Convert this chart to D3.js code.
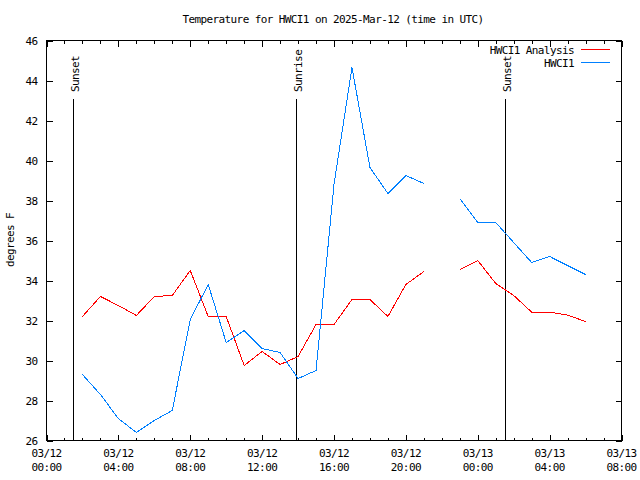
<!DOCTYPE html>
<html>
<head>
<meta charset="utf-8">
<script src="https://cdn.jsdelivr.net/npm/d3@7"></script>
<style>
  html, body { margin: 0; padding: 0; background: #fff; }
  svg { display: block; }
  text { font-family: "DejaVu Sans Mono", "Liberation Mono", monospace; font-size: 11px; letter-spacing: -0.6px; fill: #000; }
</style>
</head>
<body>
<svg id="chart" width="640" height="480"></svg>
<script>
// ---------- data ----------
const startHour = "2025-03-12T02:00:00Z";
const analysisValues = [32.2, 33.2, 32.75, 32.25, 33.2, 33.25, 34.5, 32.2, 32.2, 29.75, 30.45, 29.8, 30.2, 31.8, 31.8, 33.05, 33.05, 32.2, 33.8, 34.45, null, 34.55, 35.0, 33.85, 33.25, 32.42, 32.42, 32.27, 31.95];
const observedValues = [29.3, 28.3, 27.1, 26.4, 27.0, 27.5, 32.05, 33.8, 30.9, 31.5, 30.6, 30.4, 29.1, 29.5, 38.8, 44.65, 39.65, 38.35, 39.25, 38.85, null, 38.1, 36.9, 36.9, 35.9, 34.9, 35.2, 34.75, 34.3];
const seriesNames = ["HWCI1 Analysis", "HWCI1"];
const seriesColors = ["#ff0000", "#0080ff"];
const sunEvents = [
  { label: "Sunset", time: "2025-03-12T01:30:00Z" },
  { label: "Sunrise", time: "2025-03-12T13:55:00Z" },
  { label: "Sunset", time: "2025-03-13T01:32:00Z" }
];
const xDomain = ["2025-03-12T00:00:00Z", "2025-03-13T08:00:00Z"];
const yDomain = [26, 46];
const yTickValues = [26, 28, 30, 32, 34, 36, 38, 40, 42, 44, 46];
const titleText = "Temperature for HWCI1 on 2025-Mar-12 (time in UTC)";
const yLabelText = "degrees F";

// ---------- build ----------
const t0 = new Date(startHour);
const times = analysisValues.map((_, i) => d3.utcHour.offset(t0, i));
const series = [analysisValues, observedValues].map((vals, s) => ({
  name: seriesNames[s], color: seriesColors[s],
  points: vals.map((v, i) => ({ t: times[i], v }))
}));

const svg = d3.select("#chart");
const L = 46.5, R = 621.5, T = 40.5, B = 440.5;
const x = d3.scaleUtc().domain(xDomain.map(d => new Date(d))).range([L, R]);
const y = d3.scaleLinear().domain(yDomain).range([B, T]);

// title
svg.append("text").attr("x", 333).attr("y", 23).attr("text-anchor", "middle").text(titleText);
// y label
svg.append("text").attr("transform", "translate(14,240) rotate(-90)").attr("text-anchor", "middle").text(yLabelText);

// axes
const majorTicks = x.ticks(d3.utcHour.every(4));
const minorTicks = x.ticks(d3.utcHour.every(1));

const gB = svg.append("g").attr("transform", `translate(0,${B})`)
  .call(d3.axisBottom(x).tickValues(minorTicks).tickSize(-3).tickFormat(""));
const gB2 = svg.append("g").attr("transform", `translate(0,${B})`)
  .call(d3.axisBottom(x).tickValues(majorTicks).tickSize(-6).tickPadding(0).tickFormat(""));
const gT = svg.append("g").attr("transform", `translate(0,${T})`)
  .call(d3.axisTop(x).tickValues(minorTicks).tickSize(-3).tickFormat(""));
const gT2 = svg.append("g").attr("transform", `translate(0,${T})`)
  .call(d3.axisTop(x).tickValues(majorTicks).tickSize(-6).tickFormat(""));
const gL = svg.append("g").attr("transform", `translate(${L},0)`)
  .call(d3.axisLeft(y).tickValues(yTickValues).tickSize(-6).tickPadding(9).tickFormat(d3.format("d")));
const gR = svg.append("g").attr("transform", `translate(${R},0)`)
  .call(d3.axisRight(y).tickValues(yTickValues).tickSize(-6).tickFormat(""));

[gB, gB2, gT, gT2, gL, gR].forEach(g => {
  g.select(".domain").remove();
  g.selectAll("line").attr("stroke", "#000").attr("shape-rendering", "crispEdges");
  g.attr("font-family", null).attr("font-size", null);
});
gL.selectAll("text").attr("dy", "0.35em").attr("x", -9);

// two-line x tick labels
const fmtDate = d3.utcFormat("%m/%d"), fmtTime = d3.utcFormat("%H:%M");
const lab = svg.append("g");
majorTicks.forEach(t => {
  const tx = lab.append("text").attr("text-anchor", "middle").attr("x", x(t));
  tx.append("tspan").attr("x", x(t)).attr("y", 457).text(fmtDate(t));
  tx.append("tspan").attr("x", x(t)).attr("y", 471).text(fmtTime(t));
});

// frame
svg.append("rect").attr("x", L).attr("y", T).attr("width", R - L).attr("height", B - T)
  .attr("fill", "none").attr("stroke", "#000").attr("shape-rendering", "crispEdges");

// sun events
sunEvents.forEach(e => {
  const ex = Math.floor(x(new Date(e.time))) + 0.5;
  svg.append("line").attr("x1", ex).attr("x2", ex).attr("y1", 99).attr("y2", B)
    .attr("stroke", "#000").attr("shape-rendering", "crispEdges");
  svg.append("text").attr("transform", `translate(${ex + 5},92) rotate(-90)`)
    .attr("text-anchor", "start").text(e.label);
});

// series lines
const line = d3.line().defined(d => d.v != null).x(d => x(d.t)).y(d => y(d.v));
series.forEach(s => {
  svg.append("path").datum(s.points).attr("d", line)
    .attr("fill", "none").attr("stroke", s.color).attr("stroke-width", 1)
    .attr("shape-rendering", "crispEdges");
});

// legend
series.forEach((s, i) => {
  const ly = 50 + i * 13;
  svg.append("text").attr("x", 574).attr("y", ly).attr("dy", "0.35em").attr("text-anchor", "end").text(s.name);
  svg.append("line").attr("x1", 581).attr("x2", 610).attr("y1", ly - 0.5).attr("y2", ly - 0.5)
    .attr("stroke", s.color).attr("shape-rendering", "crispEdges");
});
</script>
</body>
</html>
